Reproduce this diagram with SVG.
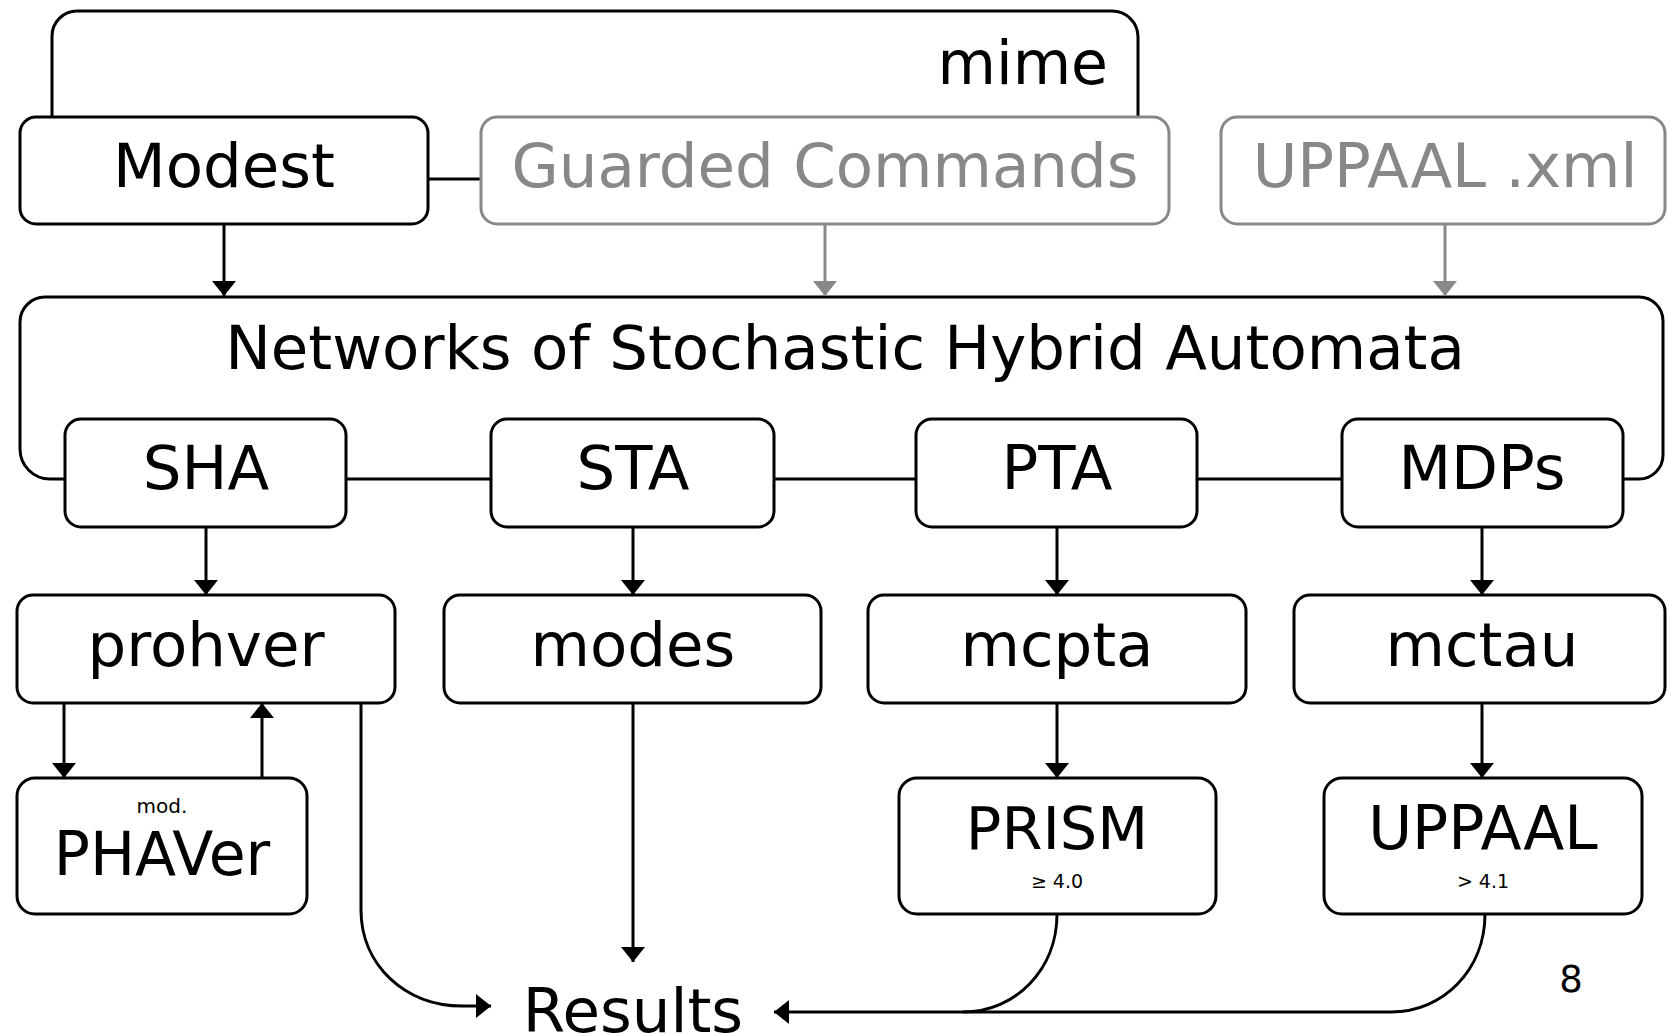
<svg xmlns="http://www.w3.org/2000/svg" width="1668" height="1036" viewBox="0 0 1668 1036">
<style>
text{font-family:"DejaVu Sans","Liberation Sans",sans-serif;text-anchor:middle;fill:#000}
.big{font-size:61px}
.gray{fill:#888}
.small{font-size:20px}
.box{fill:#fff;stroke:#000;stroke-width:3}
.gbox{fill:#fff;stroke:#888;stroke-width:3}
.ln{fill:none;stroke:#000;stroke-width:3}
.gln{fill:none;stroke:#888;stroke-width:3}
</style>
<defs>
<marker id="ah" markerUnits="userSpaceOnUse" markerWidth="16" markerHeight="26" refX="15" refY="12" orient="auto">
<path d="M0,0 L15,12 L0,24 z" fill="#000"/>
</marker>
<marker id="gah" markerUnits="userSpaceOnUse" markerWidth="16" markerHeight="26" refX="15" refY="12" orient="auto">
<path d="M0,0 L15,12 L0,24 z" fill="#888"/>
</marker>
</defs>
<rect width="1668" height="1036" fill="#fff"/>

<g id="connectors">
<path class="ln" d="M52,117 V36 A25,25 0 0 1 77,11 H1112 A26,26 0 0 1 1138,37 V117"/>
<path class="ln" d="M65,479 H50 A30,30 0 0 1 20,449 V322 A25,25 0 0 1 45,297 H1639 A24,24 0 0 1 1663,321 V455 A24,24 0 0 1 1639,479 H1623"/>
<line class="ln" x1="428" y1="179" x2="481" y2="179"/>
<line class="ln" x1="346" y1="479" x2="491" y2="479"/>
<line class="ln" x1="774" y1="479" x2="916" y2="479"/>
<line class="ln" x1="1197" y1="479" x2="1342" y2="479"/>
<line class="ln" x1="224" y1="224" x2="224" y2="296" marker-end="url(#ah)"/>
<line class="gln" x1="825" y1="224" x2="825" y2="296" marker-end="url(#gah)"/>
<line class="gln" x1="1445" y1="224" x2="1445" y2="296" marker-end="url(#gah)"/>
<line class="ln" x1="206" y1="527" x2="206" y2="595" marker-end="url(#ah)"/>
<line class="ln" x1="633" y1="527" x2="633" y2="595" marker-end="url(#ah)"/>
<line class="ln" x1="1057" y1="527" x2="1057" y2="595" marker-end="url(#ah)"/>
<line class="ln" x1="1482" y1="527" x2="1482" y2="595" marker-end="url(#ah)"/>
<line class="ln" x1="64" y1="703" x2="64" y2="778" marker-end="url(#ah)"/>
<line class="ln" x1="262" y1="778" x2="262" y2="703" marker-end="url(#ah)"/>
<line class="ln" x1="1057" y1="703" x2="1057" y2="778" marker-end="url(#ah)"/>
<line class="ln" x1="1482" y1="703" x2="1482" y2="778" marker-end="url(#ah)"/>
<line class="ln" x1="633" y1="703" x2="633" y2="962" marker-end="url(#ah)"/>
<path class="ln" d="M361,703 V910 C361,965 405,1006 462,1006 H491" marker-end="url(#ah)"/>
<path class="ln" d="M1057,914 C1057,970 1015,1012 963,1012 H774" marker-end="url(#ah)"/>
<path class="ln" d="M1485,914 C1485,970 1443,1012 1391,1012 H963"/>
</g>

<g id="mime"><text class="big" x="1108" y="84" style="text-anchor:end;font-size:60px">mime</text></g>
<g id="modest"><rect class="box" x="20" y="117" width="408" height="107" rx="16"/><text class="big" x="224" y="187">Modest</text></g>
<g id="guarded"><rect class="gbox" x="481" y="117" width="688" height="107" rx="16"/><text class="big gray" x="825" y="187">Guarded Commands</text></g>
<g id="uppaalxml"><rect class="gbox" x="1221" y="117" width="444" height="107" rx="16"/><text class="big gray" x="1445" y="187">UPPAAL .xml</text></g>
<g id="nsha"><text class="big" x="845" y="369">Networks of Stochastic Hybrid Automata</text></g>
<g id="sha"><rect class="box" x="65" y="419" width="281" height="108" rx="16"/><text class="big" x="206" y="489">SHA</text></g>
<g id="sta"><rect class="box" x="491" y="419" width="283" height="108" rx="16"/><text class="big" x="633" y="489">STA</text></g>
<g id="pta"><rect class="box" x="916" y="419" width="281" height="108" rx="16"/><text class="big" x="1057" y="489">PTA</text></g>
<g id="mdps"><rect class="box" x="1342" y="419" width="281" height="108" rx="16"/><text class="big" x="1482" y="489">MDPs</text></g>
<g id="prohver"><rect class="box" x="17" y="595" width="378" height="108" rx="16"/><text class="big" x="206" y="666">prohver</text></g>
<g id="modes"><rect class="box" x="444" y="595" width="377" height="108" rx="16"/><text class="big" x="633" y="666">modes</text></g>
<g id="mcpta"><rect class="box" x="868" y="595" width="378" height="108" rx="16"/><text class="big" x="1057" y="666">mcpta</text></g>
<g id="mctau"><rect class="box" x="1294" y="595" width="371" height="108" rx="16"/><text class="big" x="1482" y="666">mctau</text></g>
<g id="phaver"><rect class="box" x="17" y="778" width="290" height="136" rx="18"/><text class="small" x="162" y="813">mod.</text><text class="big" x="162" y="875" style="font-size:60px">PHAVer</text></g>
<g id="prism"><rect class="box" x="899" y="778" width="317" height="136" rx="18"/><text class="big" x="1057" y="849" style="font-size:59px">PRISM</text><text class="small" x="1057" y="888" style="font-size:19px">≥ 4.0</text></g>
<g id="uppaal"><rect class="box" x="1324" y="778" width="318" height="136" rx="18"/><text class="big" x="1483" y="849" style="font-size:60px">UPPAAL</text><text class="small" x="1483" y="888" style="font-size:19px">&gt; 4.1</text></g>
<g id="results"><text class="big" x="633" y="1032">Results</text></g>
<g id="page"><text x="1571" y="992" style="font-size:37px">8</text></g>
</svg>
